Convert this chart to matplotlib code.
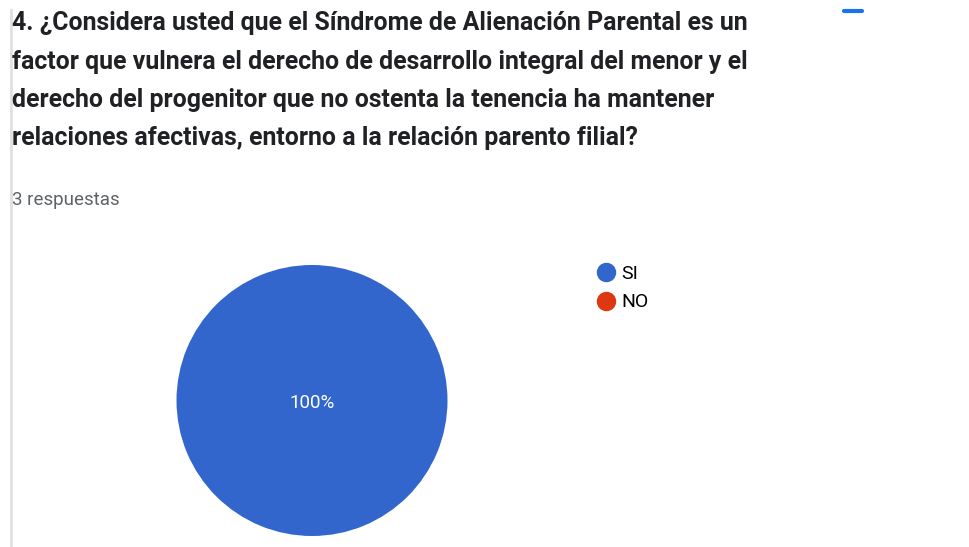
import matplotlib.pyplot as plt
from matplotlib.lines import Line2D

# data
labels = ['SI', 'NO']
counts = [3, 0]
colors = ['#3366cc', '#dc3912']
title_lines = [
    '4. ¿Considera usted que el Síndrome de Alienación Parental es un',
    'factor que vulnera el derecho de desarrollo integral del menor y el',
    'derecho del progenitor que no ostenta la tenencia ha mantener',
    'relaciones afectivas, entorno a la relación parento filial?',
]
subtitle = '3 respuestas'

W, H = 969, 547
fig = plt.figure(figsize=(W / 100, H / 100), dpi=100)
fig.patch.set_facecolor('white')

def fx(px):
    return px / W

def fy(py):
    return 1 - py / H

# left grey border and little blue mark at top
fig.add_artist(Line2D([fx(10.5), fx(10.5)], [fy(10), fy(547)], color='#e0e0e0', lw=2))
fig.add_artist(Line2D([fx(844), fx(862)], [fy(11), fy(11)], color='#1a73e8', lw=3,
                      solid_capstyle='round'))

# title
for i, line in enumerate(title_lines):
    fig.text(fx(12), fy(23 + i * 38.5), line, fontsize=17.9, fontweight='bold',
             family='Roboto', color='#202124', va='center', ha='left')

fig.text(fx(12), fy(200), subtitle, fontsize=13.5, family='Roboto',
         color='#5f6368', va='center', ha='left')

# pie
ax = fig.add_axes([fx(176), fy(536), (448 - 176) / W, (536 - 265) / H])
wedges, _ = ax.pie(counts, colors=colors, startangle=90, counterclock=False,
                   radius=1, wedgeprops=dict(linewidth=0))
ax.set_xlim(-1, 1)
ax.set_ylim(-1, 1)
ax.set_aspect('equal')
ax.axis('off')

total = sum(counts)
for c in counts:
    if c == total:
        ax.text(0, -0.02, f'{100 * c / total:.0f}%', color='white', fontsize=13.5,
                family='Roboto', ha='center', va='center')

# legend
handles = [Line2D([], [], marker='o', linestyle='', markersize=13,
                  markerfacecolor=col, markeredgecolor=col) for col in colors]
fig.legend(handles, labels, loc='upper left', bbox_to_anchor=(fx(588), fy(257)),
           frameon=False, prop={'family': 'Roboto', 'size': 14},
           handletextpad=0.2, labelspacing=0.55, handlelength=1.1, borderaxespad=0)

plt.savefig('out.png', dpi=100)
